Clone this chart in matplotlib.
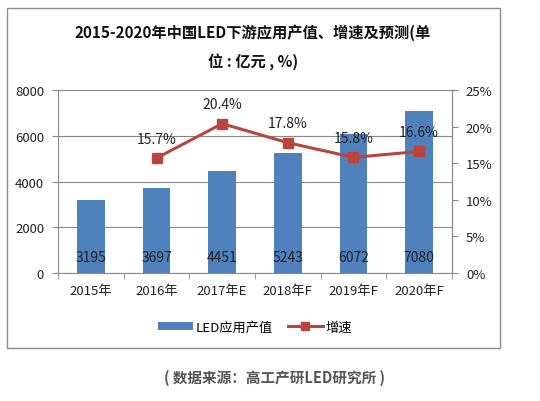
import matplotlib
matplotlib.use("Agg")
import matplotlib.pyplot as plt
from matplotlib.patches import Rectangle, Patch
from matplotlib.lines import Line2D
import numpy as np

plt.rcParams['font.family'] = ['Noto Sans CJK SC', 'DejaVu Sans']

categories = ['2015年', '2016年', '2017年E', '2018年F', '2019年F', '2020年F']
output_values = [3195, 3697, 4451, 5243, 6072, 7080]
growth_values = [np.nan, 15.7, 20.4, 17.8, 15.8, 16.6]
left_ticks = [0, 2000, 4000, 6000, 8000]
right_ticks = [0, 5, 10, 15, 20, 25]

bar_color = '#4F81BD'
line_color = '#B8463F'
grid_color = '#888888'

fig = plt.figure(figsize=(5.4, 4.02), dpi=100)
fig.patch.set_facecolor('white')

# outer border
fig.add_artist(Rectangle((7/540, 1-349/402), (500-7)/540, (349-9)/402,
                         transform=fig.transFigure, fill=False,
                         edgecolor='#8c8c8c', linewidth=1.0))

ax = fig.add_axes([58/540, 1-274/402, (452-58)/540, (274-91)/402])
x = np.arange(len(categories))
ax.bar(x, output_values, width=0.42, color=bar_color, zorder=2)
ax.set_xlim(-0.5, len(categories)-0.5)
ax.set_ylim(0, 8000)
ax.set_yticks(left_ticks)
ax.set_yticklabels([str(t) for t in left_ticks], fontsize=9.5, color='#222222')
ax.set_xticks(x)
ax.set_xticklabels(categories, fontsize=9.5, color='#222222')
ax.tick_params(axis='x', length=0, pad=8)
ax.set_xticks(np.arange(-0.5, len(categories), 1), minor=True)
ax.tick_params(axis='x', which='minor', length=4, color=grid_color, direction='out')
ax.tick_params(axis='y', length=4, color=grid_color, pad=6)
ax.grid(axis='y', color=grid_color, linewidth=0.8, zorder=0)
ax.set_axisbelow(True)
ax.spines['top'].set_visible(False)
for s in ['left', 'right', 'bottom']:
    ax.spines[s].set_color(grid_color)
    ax.spines[s].set_linewidth(0.8)

for xi, v in zip(x, output_values):
    ax.text(xi, 700, str(v), ha='center', va='center', fontsize=10, color='#222222', zorder=4)

ax2 = ax.twinx()
ax2.plot(x, growth_values, color=line_color, linewidth=2.2, marker='s',
         markersize=6.5, markerfacecolor=line_color, markeredgecolor=line_color, zorder=3)
ax2.set_ylim(0, 25)
ax2.set_yticks(right_ticks)
ax2.set_yticklabels([f'{t}%' for t in right_ticks], fontsize=9.5, color='#222222')
ax2.tick_params(axis='y', length=4, color=grid_color, pad=6)
for s in ['top', 'left', 'bottom']:
    ax2.spines[s].set_visible(False)
ax2.spines['right'].set_color(grid_color)
ax2.spines['right'].set_linewidth(0.8)
for xi, v in zip(x, growth_values):
    if not np.isnan(v):
        ax2.annotate(f'{v}%', (xi, v), xytext=(0, 9), textcoords='offset points',
                     ha='center', va='bottom', fontsize=10, color='#222222')

handles = [Patch(facecolor=bar_color, edgecolor='none'),
           Line2D([0], [0], color=line_color, linewidth=2.2, marker='s',
                  markersize=5.5, markerfacecolor=line_color)]
fig.legend(handles, ['LED应用产值', '增速'], loc='center',
           bbox_to_anchor=(255/540, 1-328/402), ncol=2, frameon=False,
           fontsize=9.5, handlelength=2.6, handleheight=0.5,
           columnspacing=1.2, handletextpad=0.2)

fig.text(253/540, 1-33/402, '2015-2020年中国LED下游应用产值、增速及预测(单',
         ha='center', va='center', fontsize=11, fontweight='bold', color='#111111')
fig.text(253/540, 1-62/402, '位 : 亿元 , %)',
         ha='center', va='center', fontsize=11, fontweight='bold', color='#111111')

fig.text(274/540, 1-378/402, '( 数据来源：高工产研LED研究所 )',
         ha='center', va='center', fontsize=10.5, fontweight='bold', color='#555555')

fig.savefig('out.png', dpi=100)
